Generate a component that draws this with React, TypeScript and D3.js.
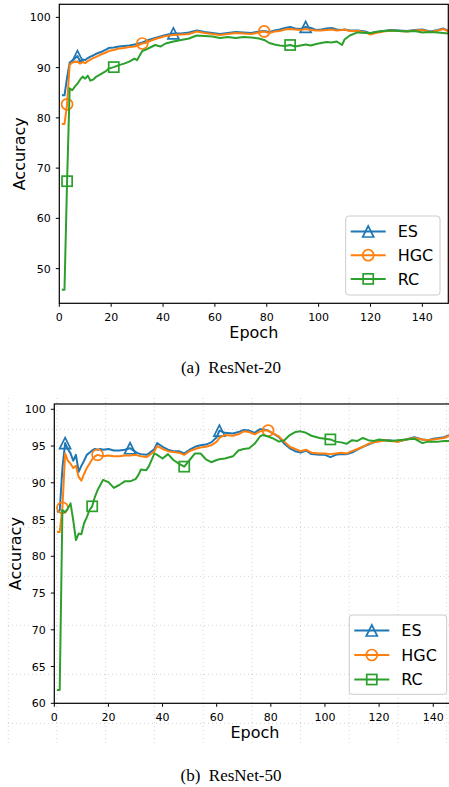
import React from 'react';
import * as d3 from 'd3';

// ---------- Data: (a) ResNet-20 ----------
const epochsA = [1,2,3,4,5,6,7,8,9,10,11,12,13,14,16,18,19,21,23,25,27,29,30,32,33,35,37,39,41,44,47,50,53,56,59,62,65,68,71,74,77,79,81,83,85,87,89,91,93,95,97,99,101,103,105,107,109,110,112,115,118,120,122,125,128,131,134,137,140,143,146,148,150];
const esA = [84.5,84.5,88.0,91.0,91.4,91.8,92.3,91.3,91.6,91.5,91.9,92.2,92.4,92.7,93.1,93.6,93.9,94.0,94.2,94.3,94.4,94.6,94.7,95.0,95.2,95.6,95.9,96.2,96.5,96.8,96.8,97.0,97.4,97.1,96.9,96.7,96.9,97.1,97.0,96.9,97.2,97.3,97.1,97.4,97.6,97.9,98.1,97.8,97.7,98.1,97.9,97.5,97.6,97.8,97.9,97.6,97.5,97.6,97.4,97.4,97.2,96.8,97.1,97.3,97.5,97.4,97.3,97.5,97.6,97.2,97.5,97.8,97.3];
const hgcA = [78.8,78.8,82.7,90.6,91.0,91.1,91.2,90.8,91.1,90.9,91.3,91.6,91.9,92.1,92.6,93.0,93.3,93.5,93.8,93.9,94.1,94.2,94.4,94.8,94.9,95.3,95.7,96.0,96.3,96.5,96.6,96.7,97.2,96.9,96.7,96.5,96.7,96.9,96.8,96.7,97.0,97.2,96.9,97.2,97.3,97.6,97.7,97.6,97.5,97.7,97.5,97.4,97.4,97.5,97.6,97.4,97.5,97.6,97.3,97.3,97.0,96.6,96.9,97.2,97.4,97.3,97.2,97.4,97.5,97.1,97.4,97.7,97.2];
const rcA = [45.8,45.8,67.4,85.9,85.5,86.2,86.8,87.6,88.2,87.8,88.4,87.4,87.6,88.1,88.7,89.3,89.8,90.1,90.5,90.8,91.2,91.8,91.5,93.3,93.5,94.0,94.5,94.2,94.8,95.2,95.5,95.8,96.4,96.3,96.2,95.9,96.1,95.9,96.1,96.0,95.8,95.5,94.9,94.6,94.4,94.3,94.5,94.2,94.4,94.6,94.4,94.7,94.9,95.1,95.0,95.2,94.5,95.6,96.4,97.0,96.9,96.9,97.1,97.3,97.4,97.3,97.2,97.3,97.0,97.1,97.0,96.9,96.8];
const esMarkA = [7, 44, 95];
const hgcMarkA = [3, 32, 79];
const rcMarkA = [3, 21, 89];

// ---------- Data: (b) ResNet-50 ----------
const epochsB = [1,2,3,4,5,6,7,8,9,10,11,12,13,14,15,16,17,18,20,22,24,26,28,30,31,32,34,35,37,38,40,42,44,46,48,50,52,54,56,58,60,61,63,66,68,70,72,74,76,77,79,81,83,85,87,89,91,93,95,98,100,102,104,106,108,110,112,114,116,118,120,122,124,127,130,133,136,138,140,142,144,146,147];
const esB = [86.0,86.2,92.0,95.4,94.6,94.0,93.0,93.8,91.5,92.3,93.0,93.8,94.1,94.4,94.6,94.5,94.6,94.5,94.6,94.4,94.4,94.5,94.7,94.2,94.0,93.9,93.8,94.0,94.6,95.4,94.9,94.5,94.3,94.3,94.0,94.5,94.9,95.1,95.2,95.5,96.2,97.1,96.8,96.7,96.9,97.2,97.1,96.8,97.3,97.3,97.1,96.7,96.2,95.3,94.7,94.3,94.1,94.4,93.9,93.8,93.8,93.5,93.8,93.9,93.9,94.1,94.5,94.9,95.2,95.5,95.7,95.8,95.8,95.6,95.9,96.2,95.9,95.8,96.0,96.1,96.2,96.5,96.6];
const hgcB = [83.3,83.3,86.6,94.0,93.0,92.6,92.0,92.3,90.8,90.3,91.2,92.0,92.6,93.2,93.6,93.8,93.7,93.6,93.7,93.6,93.6,93.7,93.7,93.8,93.7,93.6,93.5,93.7,94.3,95.0,94.6,94.3,94.2,94.1,93.8,94.3,94.6,94.8,94.9,95.1,95.6,96.1,96.5,96.4,96.6,97.0,96.9,96.6,97.0,97.1,97.1,96.7,96.3,95.6,94.9,94.6,94.3,94.5,94.1,94.0,94.0,93.9,94.0,94.1,94.0,94.3,94.6,94.9,95.3,95.5,95.6,95.8,95.7,95.6,95.9,96.1,95.9,95.8,95.9,96.0,96.1,96.4,96.5];
const rcB = [61.8,61.8,86.3,86.0,86.5,87.2,84.9,82.2,83.1,83.0,84.5,85.3,86.3,86.8,88.1,89.0,89.7,90.4,90.1,89.3,89.7,90.2,90.2,90.5,91.0,91.8,91.7,92.3,94.0,93.8,93.3,93.9,93.1,92.6,92.2,93.1,94.0,94.0,93.2,92.8,93.1,93.2,93.3,93.6,94.4,94.6,94.7,95.3,96.3,96.5,96.3,96.0,95.6,95.8,96.5,96.9,97.0,96.8,96.4,96.1,96.0,95.9,95.6,95.5,95.3,95.8,95.7,96.1,95.8,95.7,95.9,95.8,95.7,95.8,95.9,96.0,95.4,95.6,95.6,95.6,95.7,95.7,95.7];
const esMarkB = [4, 28, 61];
const hgcMarkB = [3, 16, 79];
const rcMarkB = [14, 48, 102];

const seriesNames = ['ES', 'HGC', 'RC'];
const xTicks = [0, 20, 40, 60, 80, 100, 120, 140];
const yTicksA = [50, 60, 70, 80, 90, 100];
const yTicksB = [60, 65, 70, 75, 80, 85, 90, 95, 100];

const COLORS = ['#1f77b4', '#ff7f0e', '#2ca02c'];
const SHAPES = ['tri', 'circ', 'sq'];
const FONT = '"DejaVu Sans", sans-serif';

function Marker({ shape, x, y, color, size = 11 }: any) {
  const h = size / 2;
  const common = { fill: 'none', stroke: color, strokeWidth: 1.7 };
  if (shape === 'tri') {
    return <path d={`M${x},${y - h}L${x - h},${y + h}L${x + h},${y + h}Z`} {...common} />;
  }
  if (shape === 'circ') return <circle cx={x} cy={y} r={h} {...common} />;
  const s = size * 0.92;
  return <rect x={x - s / 2} y={y - s / 2} width={s} height={s} {...common} />;
}

function Panel({ id, epochs, series, marks, box, xDomain, yDomain, yTicks, legend, accX }: any) {
  const x = d3.scaleLinear().domain(xDomain).range([box.left, box.right]);
  const y = d3.scaleLinear().domain(yDomain).range([box.bottom, box.top]);
  const line = d3.line<number>().x((_, i) => x(epochs[i])).y((d) => y(d));
  return (
    <g>
      <defs>
        <clipPath id={id}>
          <rect x={box.left} y={box.top} width={box.right - box.left} height={box.bottom - box.top} />
        </clipPath>
      </defs>
      <g clipPath={`url(#${id})`}>
        {series.map((vals: number[], si: number) => (
          <g key={si}>
            <path d={line(vals) || ''} fill="none" stroke={COLORS[si]} strokeWidth={2} strokeLinejoin="round" />
            {marks[si].map((ep: number) => {
              const idx = epochs.indexOf(ep);
              return <Marker key={ep} shape={SHAPES[si]} x={x(ep)} y={y(vals[idx])} color={COLORS[si]} />;
            })}
          </g>
        ))}
      </g>
      <rect x={box.left} y={box.top} width={box.right - box.left} height={box.bottom - box.top} fill="none" stroke="#000" strokeWidth={1.2} />
      {xTicks.map((t) => (
        <g key={'x' + t}>
          <line x1={x(t)} x2={x(t)} y1={box.bottom} y2={box.bottom + 3.5} stroke="#000" strokeWidth={1} />
          <text x={x(t)} y={box.bottom + 17.4} textAnchor="middle" fontSize={11} fontFamily={FONT} fill="#000">{t}</text>
        </g>
      ))}
      {yTicks.map((t: number) => (
        <g key={'y' + t}>
          <line x1={box.left - 3.5} x2={box.left} y1={y(t)} y2={y(t)} stroke="#000" strokeWidth={1} />
          <text x={box.left - 8.5} y={y(t)} dy="0.36em" textAnchor="end" fontSize={11} fontFamily={FONT} fill="#000">{t}</text>
        </g>
      ))}
      <text x={(box.left + box.right) / 2} y={box.bottom + 35.1} textAnchor="middle" fontSize={16} fontFamily={FONT} fill="#000">Epoch</text>
      <text transform={`translate(${accX},${(box.top + box.bottom) / 2}) rotate(-90)`} textAnchor="middle" fontSize={16} fontFamily={FONT} fill="#000">Accuracy</text>
      <rect x={legend.x} y={legend.y} width={legend.w} height={legend.h} rx={3} fill="#fff" fillOpacity={0.8} stroke="#ccc" strokeWidth={1} />
      {seriesNames.map((name, i) => {
        const cy = legend.y + 15.5 + i * legend.gap;
        return (
          <g key={name}>
            <line x1={legend.x + 5} x2={legend.x + 40} y1={cy} y2={cy} stroke={COLORS[i]} strokeWidth={2} />
            <Marker shape={SHAPES[i]} x={legend.x + 22.5} y={cy} color={COLORS[i]} />
            <text x={legend.x + 52} y={cy} dy="0.36em" fontSize={16} fontFamily={FONT} fill="#000">{name}</text>
          </g>
        );
      })}
    </g>
  );
}

export default function App() {
  const gridX = d3.range(10).map((k) => 8.3 + k * 48.7);
  const gridY = d3.range(7).map((k) => 429.3 + k * 49);
  return (
    <svg width={449} height={787} style={{ position: 'absolute', left: 0, top: 0, background: '#fff' }}>
      <rect width={449} height={787} fill="#fff" />
      {/* background dotted grid behind panel (b) */}
      {gridX.map((gx) => (
        <line key={'gx' + gx} x1={gx} x2={gx} y1={398} y2={745} stroke="#c8c8c8" strokeWidth={0.8} strokeDasharray="1,3" />
      ))}
      {gridY.map((gy) => (
        <line key={'gy' + gy} x1={8} x2={449} y1={gy} y2={gy} stroke="#c8c8c8" strokeWidth={0.8} strokeDasharray="1,3" />
      ))}
      <Panel
        id="clipA"
        epochs={epochsA}
        series={[esA, hgcA, rcA]}
        marks={[esMarkA, hgcMarkA, rcMarkA]}
        box={{ left: 59.3, right: 448.3, top: 4.3, bottom: 303.3 }}
        xDomain={[0, 150]}
        yDomain={[43.1, 102.6]}
        yTicks={yTicksA}
        legend={{ x: 345.7, y: 216, w: 94.3, h: 79, gap: 23.7 }}
        accX={25}
      />
      <Panel
        id="clipB"
        epochs={epochsB}
        series={[esB, hgcB, rcB]}
        marks={[esMarkB, hgcMarkB, rcMarkB]}
        box={{ left: 54.3, right: 455.7, top: 404, bottom: 703.3 }}
        xDomain={[0, 148.3]}
        yDomain={[60, 100.72]}
        yTicks={yTicksB}
        legend={{ x: 349.3, y: 615, w: 97.4, h: 79.3, gap: 24.5 }}
        accX={20.5}
      />
      <text x={231} y={373} textAnchor="middle" fontSize={17} fontFamily={'"Liberation Serif", "Times New Roman", serif'} fill="#000">(a)&#160;&#160;ResNet-20</text>
      <text x={231} y={781} textAnchor="middle" fontSize={17} fontFamily={'"Liberation Serif", "Times New Roman", serif'} fill="#000">(b)&#160;&#160;ResNet-50</text>
    </svg>
  );
}
